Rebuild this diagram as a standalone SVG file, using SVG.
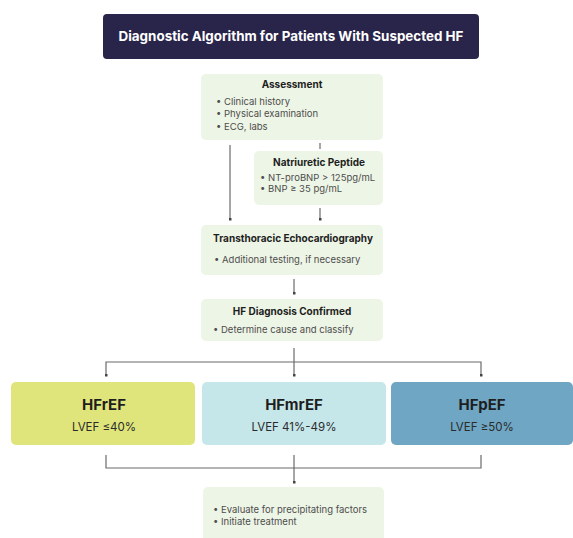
<svg xmlns="http://www.w3.org/2000/svg" width="573" height="538" viewBox="0 0 573 538">
<defs>
<style>
text{font-family:Inter,"Noto Sans","Liberation Sans",sans-serif;}
.box{fill:#edf5e6;}
.t{font-size:10px;font-weight:700;fill:#1e1e1e;text-anchor:middle;}
.b{font-size:9.5px;fill:#4d4d4d;}
.big{font-size:15px;font-weight:700;fill:#1e1e1e;text-anchor:middle;}
.sub{font-size:11.5px;fill:#2a2a2a;text-anchor:middle;}
.ln{fill:none;stroke:#6b6b6b;stroke-width:1.2;}
</style>
<marker id="dot" viewBox="0 0 4 4" refX="2" refY="2" markerWidth="3" markerHeight="3" markerUnits="userSpaceOnUse">
<rect x="0" y="0" width="4" height="4" fill="#444"/>
</marker>
</defs>
<rect width="573" height="538" fill="#ffffff"/>

<g id="connectors">
<path class="ln" d="M230 145 V219" marker-end="url(#dot)"/>
<path class="ln" d="M320 143 V149"/>
<path class="ln" d="M320 208 V219" marker-end="url(#dot)"/>
<path class="ln" d="M294 279 V293" marker-end="url(#dot)"/>
<path class="ln" d="M294 348 V375" marker-end="url(#dot)"/>
<path class="ln" d="M106 375 V362 H481 V375" marker-start="url(#dot)" marker-end="url(#dot)"/>
<path class="ln" d="M106 455 V468 H481 V455"/>
<path class="ln" d="M294 455 V482" marker-end="url(#dot)"/>
</g>

<g id="header">
<rect x="103" y="14" width="376" height="45" rx="4" fill="#29244a"/>
<text x="291" y="41" font-size="13.4px" font-weight="700" fill="#ffffff" text-anchor="middle">Diagnostic Algorithm for Patients With Suspected HF</text>
</g>

<g id="assessment">
<rect class="box" x="201" y="74" width="182" height="66" rx="5"/>
<text class="t" x="292" y="88">Assessment</text>
<text class="b" x="216" y="105">• Clinical history</text>
<text class="b" x="216" y="117">• Physical examination</text>
<text class="b" x="216" y="130">• ECG, labs</text>
</g>

<g id="natriuretic">
<rect class="box" x="254" y="151" width="129" height="54" rx="5"/>
<text class="t" x="319" y="166">Natriuretic Peptide</text>
<text class="b" x="260" y="181">• NT-proBNP &gt; 125pg/mL</text>
<text class="b" x="260" y="192">• BNP ≥ 35 pg/mL</text>
</g>

<g id="echo">
<rect class="box" x="201" y="225" width="182" height="50" rx="5"/>
<text class="t" x="293" y="242">Transthoracic Echocardiography</text>
<text class="b" x="214" y="263">• Additional testing, if necessary</text>
</g>

<g id="diagnosis">
<rect class="box" x="201" y="299" width="182" height="42" rx="5"/>
<text class="t" x="292" y="315">HF Diagnosis Confirmed</text>
<text class="b" x="213" y="333">• Determine cause and classify</text>
</g>

<g id="hfref">
<rect x="11" y="382" width="184" height="63" rx="5" fill="#dfe57b"/>
<text class="big" x="104" y="410">HFrEF</text>
<text class="sub" x="104" y="431">LVEF ≤40%</text>
</g>

<g id="hfmref">
<rect x="202" y="382" width="184" height="63" rx="5" fill="#c6e7ea"/>
<text class="big" x="294" y="410">HFmrEF</text>
<text class="sub" x="294" y="431">LVEF 41%-49%</text>
</g>

<g id="hfpef">
<rect x="391" y="382" width="182" height="63" rx="5" fill="#6ea6c4"/>
<text class="big" x="482" y="410">HFpEF</text>
<text class="sub" x="482" y="431">LVEF ≥50%</text>
</g>

<g id="treatment">
<rect class="box" x="203" y="487" width="181" height="60" rx="5"/>
<text class="b" x="213" y="513">• Evaluate for precipitating factors</text>
<text class="b" x="213" y="525">• Initiate treatment</text>
</g>
</svg>
